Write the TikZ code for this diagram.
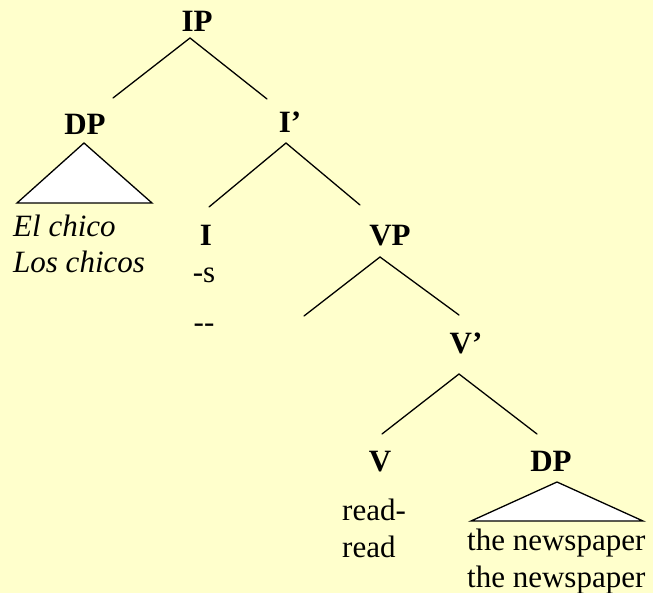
\documentclass[tikz,border=0pt]{standalone}
\usepackage{fontspec}
\setmainfont{Liberation Serif}
\definecolor{bg}{HTML}{FFFFCC}
\begin{document}
\begin{tikzpicture}[x=1pt,y=-1pt,
  lbl/.style={font=\fontsize{31}{37}\selectfont\bfseries, anchor=base, inner sep=0pt},
  txt/.style={font=\fontsize{31}{37}\selectfont, anchor=base west, inner sep=0pt},
  itxt/.style={font=\fontsize{31}{37}\selectfont\itshape, anchor=base west, inner sep=0pt},
  ctxt/.style={font=\fontsize{31}{37}\selectfont, anchor=base, inner sep=0pt},
  branch/.style={line width=1.3pt, line cap=round},
  tri/.style={draw, fill=white, line width=1.3pt, line join=miter}]
\fill[bg] (0,0) rectangle (653,593);
\useasboundingbox (0,0) rectangle (653,593);
% labels
\node[lbl] (IP) at (197,32) {IP};
\node[lbl] (DPa) at (85,135) {DP};
\node[lbl] (Ib) at (290,133) {I’};
\node[lbl] (I) at (206,246) {I};
\node[lbl] (VP) at (390,246) {VP};
\node[lbl] (Vb) at (466,353) {V’};
\node[lbl] (V) at (380,471) {V};
\node[lbl] (DPb) at (551,471) {DP};
% terminals
\node[itxt] (el) at (13,237) {El chico};
\node[itxt] (los) at (13,273) {Los chicos};
\node[ctxt] (s) at (204,283) {-s};
\node[ctxt] (dd) at (204,333) {-\kern0pt-};
\node[txt] (read1) at (342,520) {read-};
\node[txt] (read2) at (342,557) {read};
\node[txt] (np1) at (467,550) {the newspaper};
\node[txt] (np2) at (467,587) {the newspaper};
% branch points
\coordinate (IPd) at (190,38);
\coordinate (DPau) at (113,98);
\coordinate (Ibu) at (267,99);
\coordinate (Ibd) at (286,143);
\coordinate (Iu) at (209,207);
\coordinate (VPu) at (360,205);
\coordinate (VPd) at (380,257);
\coordinate (specu) at (304,316);
\coordinate (Vbu) at (459,315);
\coordinate (Vbd) at (459,374);
\coordinate (Vu) at (382,434);
\coordinate (DPbu) at (537,434);
\draw[branch] (DPau) -- (IPd) -- (Ibu);
\draw[branch] (Iu) -- (Ibd) -- (VPu);
\draw[branch] (specu) -- (VPd) -- (Vbu);
\draw[branch] (Vu) -- (Vbd) -- (DPbu);
% triangles
\coordinate (ta) at (84,143);
\coordinate (tal) at (17,203);
\coordinate (tar) at (152,203);
\coordinate (tb) at (557,482);
\coordinate (tbl) at (471,521);
\coordinate (tbr) at (643,521);
\draw[tri] (ta) -- (tal) -- (tar) -- cycle;
\draw[tri] (tb) -- (tbl) -- (tbr) -- cycle;
\end{tikzpicture}
\end{document}
